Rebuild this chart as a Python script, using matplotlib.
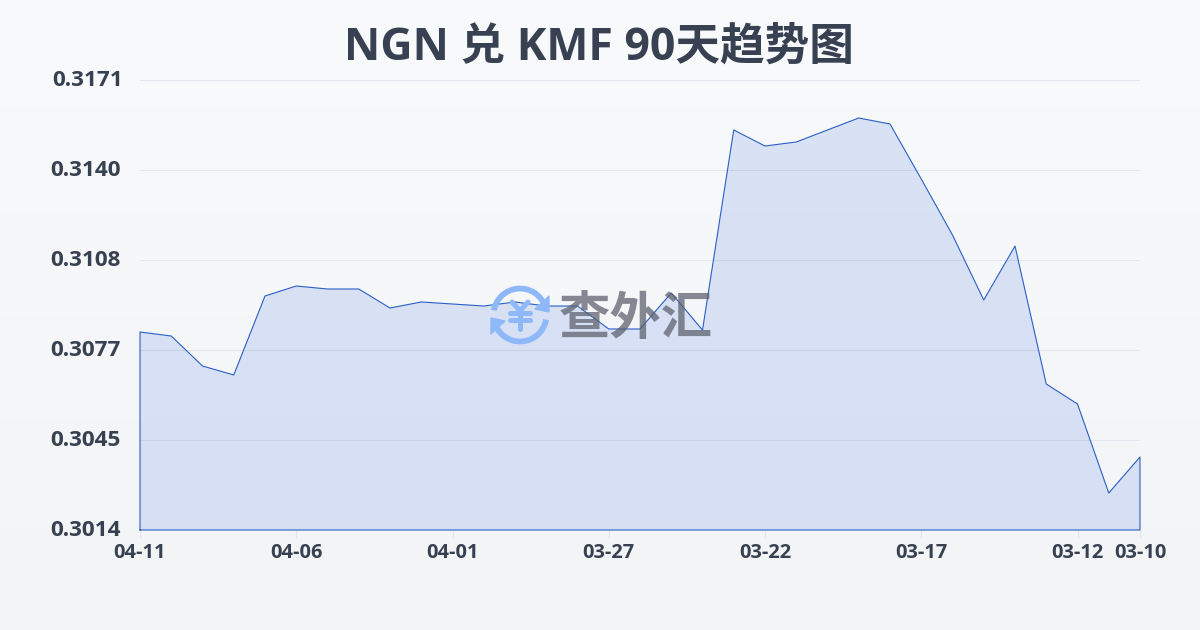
import matplotlib
matplotlib.use("Agg")
import matplotlib.pyplot as plt
import numpy as np
from matplotlib.patches import Arc, Polygon
from matplotlib.transforms import ScaledTranslation

plt.rcParams['font.family'] = ['Open Sans', 'Noto Sans CJK SC', 'DejaVu Sans']

# chart data, newest date first
rates = [0.308308, 0.308168, 0.307122, 0.306808, 0.309564, 0.309913, 0.309808,
         0.309808, 0.309145, 0.309355, 0.309285, 0.309215, 0.309355, 0.309215,
         0.309215, 0.308413, 0.308413, 0.309669, 0.308378, 0.315356, 0.314797,
         0.314937, 0.315356, 0.315774, 0.315565, 0.313646, 0.311692, 0.309424,
         0.311308, 0.306494, 0.305796, 0.302691, 0.303947]
x_tick_pos = [0, 5, 10, 15, 20, 25, 30, 32]
x_tick_labels = ['04-11', '04-06', '04-01', '03-27', '03-22', '03-17', '03-12', '03-10']
y_ticks = [0.3014, 0.30454, 0.30768, 0.31082, 0.31396, 0.3171]
y_tick_labels = ['0.3014', '0.3045', '0.3077', '0.3108', '0.3140', '0.3171']
title = 'NGN 兑 KMF 90天趋势图'

W, H = 1200, 630
TEXT = '#374151'
LINE = '#2a5fc6'
ICON = '#8fb8f8'

fig = plt.figure(figsize=(W / 100, H / 100), dpi=100)

# background gradient
bg = fig.add_axes([0, 0, 1, 1], zorder=0)
bg.imshow(np.linspace(0, 1, 256).reshape(-1, 1), aspect='auto', extent=(0, 1, 0, 1),
          cmap=matplotlib.colors.LinearSegmentedColormap.from_list('bg', ['#f9fafc', '#f3f4f6']))
bg.axis('off')

# plot area 140..1140 x 80..530 in pixels
ax = fig.add_axes([140 / W, 1 - 530 / H, 1000 / W, 450 / H], zorder=1)
ax.patch.set_alpha(0)
xs = np.arange(len(rates))
ax.fill_between(xs, rates, y_ticks[0], facecolor='#3f72e0', alpha=0.16, linewidth=0)
ax.plot(np.r_[xs[0], xs, xs[-1], xs[0]], np.r_[y_ticks[0], rates, y_ticks[0], y_ticks[0]],
        color=LINE, linewidth=0.8, clip_on=False)
ax.set_xlim(0, len(rates) - 1)
ax.set_ylim(y_ticks[0], y_ticks[-1])
ax.set_axisbelow(True)
ax.grid(axis='y', color='#e3e6ec', linewidth=0.8)
for s in ax.spines.values():
    s.set_visible(False)
ax.set_xticks(x_tick_pos)
ax.set_xticklabels(x_tick_labels, fontsize=14.4, fontweight='bold', color=TEXT)
ax.set_yticks(y_ticks)
ax.set_yticklabels(y_tick_labels, fontsize=16.2, fontweight='bold', color=TEXT)
ax.tick_params(axis='x', length=6, width=0.8, color='#e3e6ec', pad=3.5)
ax.tick_params(axis='y', length=0, pad=14)
# y labels sit a little above their grid lines
up = ScaledTranslation(0, 1.5 / 72, fig.dpi_scale_trans)
for lab in ax.get_yticklabels():
    lab.set_transform(lab.get_transform() + up)
ax.get_yticklabels()[-1].set_x(0.002)

fig.text(599 / W, 1 - 48 / H, title, fontsize=32.1, fontweight='bold', color=TEXT,
         ha='center', va='center')

# watermark, drawn in pixel coordinates
wm = fig.add_axes([0, 0, 1, 1], zorder=2)
wm.set_xlim(0, W)
wm.set_ylim(H, 0)
wm.axis('off')
wm.add_patch(Arc((520, 315), 53, 53, theta1=190, theta2=340, color=ICON, linewidth=4.2))
wm.add_patch(Arc((520, 315), 53, 53, theta1=10, theta2=165, color=ICON, linewidth=4.2))
wm.add_patch(Polygon([[549, 296], [549, 312], [535, 309]], color=ICON))
wm.add_patch(Polygon([[491, 318], [491, 334], [505, 321]], color=ICON))
for seg in ([[512, 302], [520, 311], [528, 302]], [[510, 313], [530, 313]],
            [[510, 320], [530, 320]], [[520, 311], [520, 329]]):
    seg = np.array(seg)
    wm.plot(seg[:, 0], seg[:, 1], color=ICON, linewidth=3.6, solid_capstyle='round')
wm.text(636, 321, '查外汇', fontsize=37, fontweight='bold', color='#5a5e6a', alpha=0.72,
        ha='center', va='center')

fig.savefig('out.png', dpi=100)
